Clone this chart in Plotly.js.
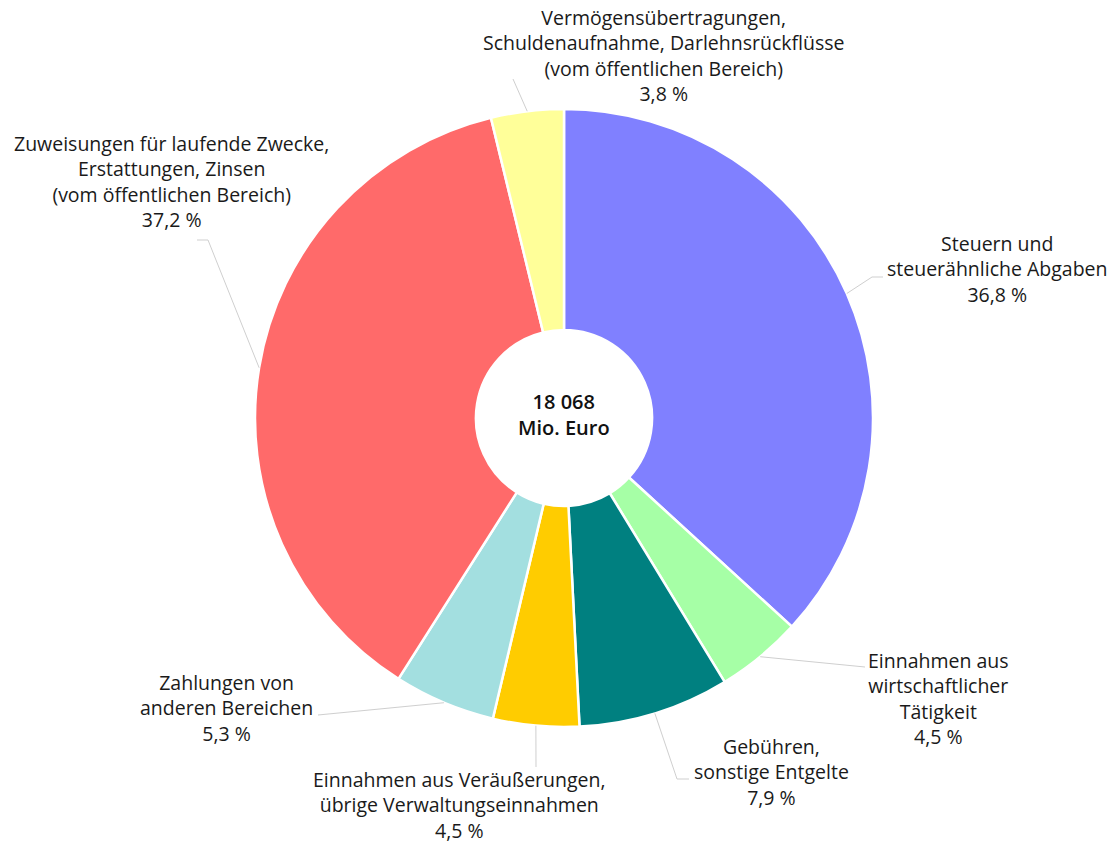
<!DOCTYPE html>
<html>
<head>
<meta charset="utf-8">
<script src="https://cdn.plot.ly/plotly-3.0.1.min.js"></script>
<style>html,body{margin:0;padding:0;background:#fff;}#chart{width:1112px;height:843px;}</style>
</head>
<body>
<div id="chart"></div>
<script>
// ---- data ----
const categories = [
  "Steuern und<br>steuerähnliche Abgaben",
  "Einnahmen aus<br>wirtschaftlicher<br>Tätigkeit",
  "Gebühren,<br>sonstige Entgelte",
  "Einnahmen aus Veräußerungen,<br>übrige Verwaltungseinnahmen",
  "Zahlungen von<br>anderen Bereichen",
  "Zuweisungen für laufende Zwecke,<br>Erstattungen, Zinsen<br>(vom öffentlichen Bereich)",
  "Vermögensübertragungen,<br>Schuldenaufnahme, Darlehnsrückflüsse<br>(vom öffentlichen Bereich)"
];
const shares = [36.8, 4.5, 7.9, 4.5, 5.3, 37.2, 3.8];
const colors = ["#8080FF", "#A6FFA6", "#008080", "#FFCC00", "#A3DFE0", "#FF6A6A", "#FFFF99"];
const totalLabel = "18 068<br>Mio. Euro";

// ---- layout constants (pixels) ----
const W = 1112, H = 843;
const CX = 564, CY = 418, R = 309;
// label block centre + leader line path beyond the slice edge
const labelPos = [
  {x: 997, y: 269, pts: [[872, 277], [883, 277]]},
  {x: 938, y: 698, pts: [[865, 667]]},
  {x: 771, y: 772, pts: [[677, 779], [689, 779]]},
  {x: 459, y: 805, pts: [[536, 767]]},
  {x: 226, y: 708, pts: [[318, 715]]},
  {x: 171, y: 182, pts: [[208, 240], [197, 240]]},
  {x: 663, y: 55, pts: [[513, 79]]}
];

const px = v => v / W;
const py = v => 1 - v / H;
const fmt = v => v.toFixed(1).replace('.', ',') + ' %';

const total = shares.reduce((a, b) => a + b, 0);
let cum = 0;
const shapes = [], annotations = [];
shares.forEach((s, i) => {
  const mid = (cum + s / 2) / total * 2 * Math.PI;
  cum += s;
  const sx = CX + R * Math.sin(mid), sy = CY - R * Math.cos(mid);
  let path = `M ${px(sx)} ${py(sy)}`;
  labelPos[i].pts.forEach(p => { path += ` L ${px(p[0])} ${py(p[1])}`; });
  shapes.push({type: 'path', xref: 'paper', yref: 'paper', path: path,
    line: {color: '#cfcfcf', width: 1}});
  annotations.push({xref: 'paper', yref: 'paper', x: px(labelPos[i].x), y: py(labelPos[i].y),
    xanchor: 'center', yanchor: 'middle', showarrow: false, align: 'center',
    text: categories[i] + '<br>' + fmt(s),
    font: {family: 'Open Sans, sans-serif', size: 19.5, color: '#1a1a1a'}});
});
annotations.push({xref: 'paper', yref: 'paper', x: px(CX), y: py(CY - 4), xanchor: 'center', yanchor: 'middle',
  showarrow: false, text: totalLabel,
  font: {family: 'Open Sans, sans-serif', size: 20, weight: 600, color: '#111'}});

const trace = {
  type: 'pie', values: shares, labels: categories.map(c => c.replace(/<br>/g, ' ')),
  sort: false, direction: 'clockwise', rotation: 0, hole: 0.285,
  marker: {colors: colors, line: {color: '#ffffff', width: 2.5}},
  textinfo: 'none', hoverinfo: 'label+percent',
  domain: {x: [px(CX - R), px(CX + R)], y: [py(CY + R), py(CY - R)]}
};

Plotly.newPlot('chart', [trace], {
  width: W, height: H, margin: {l: 0, r: 0, t: 0, b: 0},
  showlegend: false, paper_bgcolor: '#fff',
  shapes: shapes, annotations: annotations
}, {displayModeBar: false});
</script>
</body>
</html>
